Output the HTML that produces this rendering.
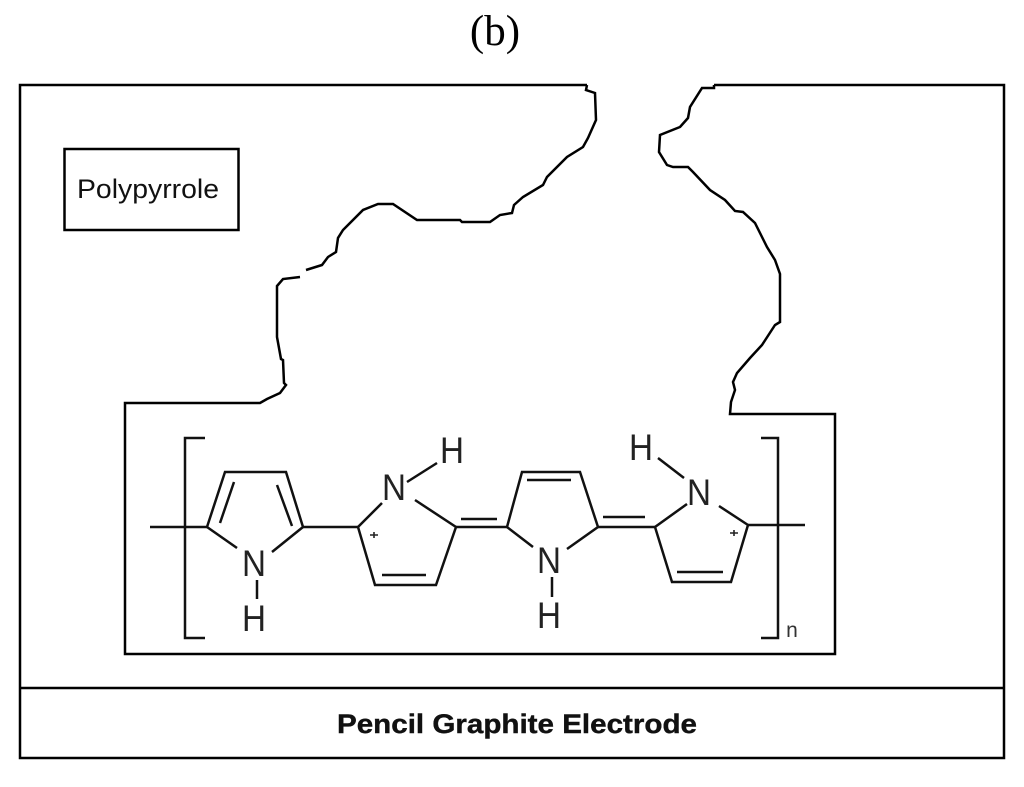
<!DOCTYPE html>
<html>
<head>
<meta charset="utf-8">
<style>
html,body{margin:0;padding:0;background:#fff;width:1024px;height:787px;overflow:hidden}
svg{display:block}
text{fill:#111}
.s{font-family:"Liberation Sans",sans-serif}
.a{font-family:"Liberation Sans",sans-serif;font-size:37px;text-anchor:middle;fill:#222}
</style>
</head>
<body>
<svg width="1024" height="787" viewBox="0 0 1024 787" xmlns="http://www.w3.org/2000/svg">
<rect width="1024" height="787" fill="#fff"/>
<text x="495" y="45" font-family="'Liberation Serif',serif" font-size="43" text-anchor="middle" style="fill:#000">(b)</text>

<g fill="none" stroke="#000" stroke-width="2.5" stroke-linejoin="miter">
<!-- outer frame -->
<path d="M587 85H20V758H1004V85H714"/>
<path d="M20 688H1004"/>
<rect x="64.500" y="149" width="174" height="81"/>
<!-- left contour -->
<path d="M587 85L586 90L595 93L596 120L588 138L583 147L567 157L547 177L543 185L523 197L514 205L512 213L500 215L490 222L462 222L460 220L417 220L393 204L378 204L363 210L343 230L338 238L336 252L328 257L322 265L306 270"/>
<path d="M300 277L283 279L277 286L277 337L281 359L283 360L284 383L286 385L280 393L267 399L260 403H125V654H835V414H730L731 402L735 390L733 382L737 373L750 358L762 345L775 325L780 322V274L775 260L767 247L755 223L743 212L735 211L725 200L710 190L693 172L688 167H673L667 165L659 152L660 135L680 127L688 118L690 107L702 88H714V85"/>
</g>

<g fill="none" stroke="#111" stroke-width="2.5">
<!-- brackets -->
<path d="M205 438H185V638H205"/>
<path d="M761 438H778V638H761"/>
<!-- end bonds -->
<path d="M150 527H207"/>
<path d="M748 525H805"/>
<!-- ring 1 -->
<path d="M207 527L225 472H286L303 527"/>
<path d="M207 527L237 548M303 527L272 552"/>
<path d="M234 482L220 523M277 485L292 526"/>
<path d="M257 580V599"/>
<path d="M303 527H358"/>
<!-- ring 2 -->
<path d="M382 503L358 527L375 585H436L456 527L415 500"/>
<path d="M382 575H426"/>
<path d="M407 482L437 463"/>
<path d="M456 527H507M461 519H497"/>
<!-- ring 3 -->
<path d="M533 547L507 527L522 472H580L598 527L567 549"/>
<path d="M527 480H571"/>
<path d="M552 577V597"/>
<path d="M598 527H655M603 517H645"/>
<!-- ring 4 -->
<path d="M687 504L655 527L672 582H731L748 525L719 506"/>
<path d="M677 572H723"/>
<path d="M658 458L684 478"/>
</g>

<text class="s" x="148" y="198" font-size="27" text-anchor="middle" textLength="142" lengthAdjust="spacingAndGlyphs">Polypyrrole</text>
<text class="s" x="517" y="733" font-size="27" font-weight="bold" text-anchor="middle" textLength="360" lengthAdjust="spacingAndGlyphs" stroke="#111" stroke-width="0.4">Pencil Graphite Electrode</text>

<text class="a" x="254" y="576" textLength="24" lengthAdjust="spacingAndGlyphs">N</text>
<text class="a" x="254" y="631" textLength="24" lengthAdjust="spacingAndGlyphs">H</text>
<text class="a" x="394" y="500" textLength="24" lengthAdjust="spacingAndGlyphs">N</text>
<text class="a" x="452" y="463" textLength="24" lengthAdjust="spacingAndGlyphs">H</text>
<text class="a" x="549" y="573" textLength="24" lengthAdjust="spacingAndGlyphs">N</text>
<text class="a" x="549" y="628" textLength="24" lengthAdjust="spacingAndGlyphs">H</text>
<text class="a" x="699" y="505" textLength="24" lengthAdjust="spacingAndGlyphs">N</text>
<text class="a" x="641" y="460" textLength="24" lengthAdjust="spacingAndGlyphs">H</text>
<text class="s" x="792" y="637" font-size="21" text-anchor="middle" style="fill:#333">n</text>
<g stroke="#222" stroke-width="1.6" fill="none">
<path d="M370 535H378M374 532V538"/>
<path d="M730 533H738M734 530V536"/>
</g>
</svg>
</body>
</html>
